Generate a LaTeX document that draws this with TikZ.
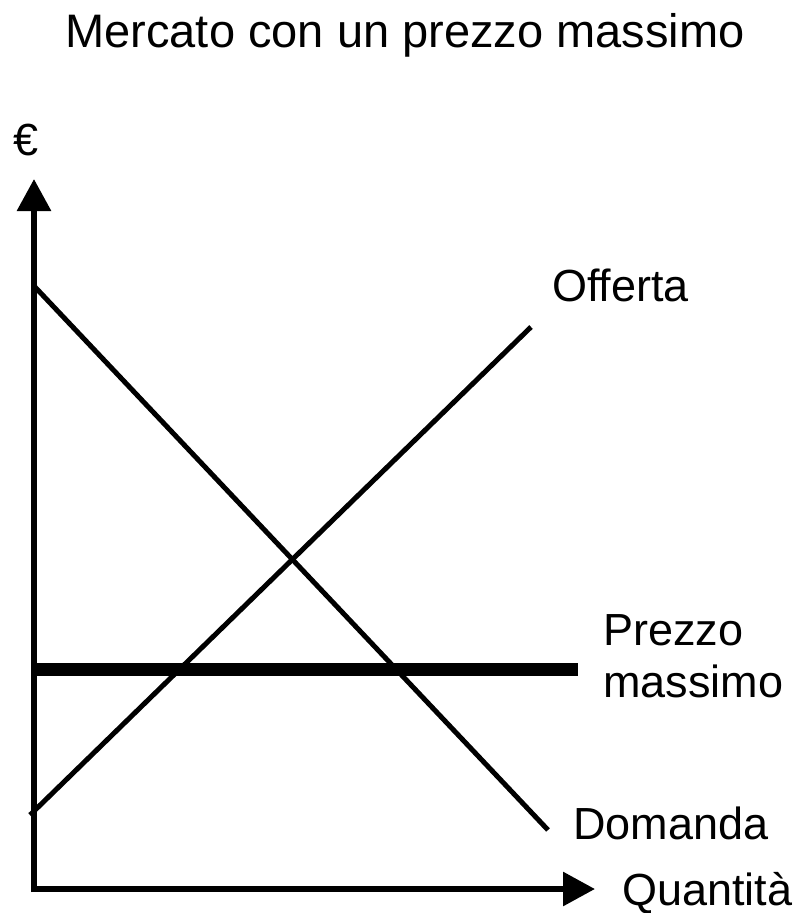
\documentclass[tikz,border=0pt]{standalone}
\usepackage{fontspec}
\setmainfont{Liberation Sans}
\usetikzlibrary{arrows.meta}

\begin{document}
\begin{tikzpicture}[x=1pt, y=-1pt,
            axis/.style={line width=6pt, -{Triangle[length=32pt,width=33pt]}},
            curve/.style={line width=5pt},
            label/.style={anchor=base west, inner sep=0pt, align=left,
                font=\fontsize{45}{52}\selectfont}]
        \useasboundingbox (0,0) rectangle (799,913);
        % axes
        \coordinate (o) at (34,889);
        \coordinate (ytop) at (34,179);
        \coordinate (xend) at (595,889);
        \draw[axis] (34,892) -- (ytop);
        \draw[axis] (31,889) -- (xend);
        % supply and demand
        \coordinate (d1) at (35,287);
        \coordinate (d2) at (548,830);
        \coordinate (s1) at (30,815);
        \coordinate (s2) at (531,327);
        \draw[curve] (d1) -- (d2);
        \draw[curve] (s1) -- (s2);
        % ceiling
        \coordinate (c1) at (34,669);
        \coordinate (c2) at (578,669);
        \draw[line width=13pt] (c1) -- (c2);
        % labels
        \node[label, anchor=base, font=\fontsize{47}{52}\selectfont] (title) at (405,47) {Mercato con un prezzo massimo};
        \node[label] (euro) at (13,155) {€};
        \node[label] (offerta) at (552,301) {Offerta};
        \node[label] (prezzo) at (603,697) {Prezzo\\massimo};
        \node[label] (domanda) at (573,839) {Domanda};
        \node[label] (quantita) at (622,905) {Quantità};
\end{tikzpicture}
\end{document}
